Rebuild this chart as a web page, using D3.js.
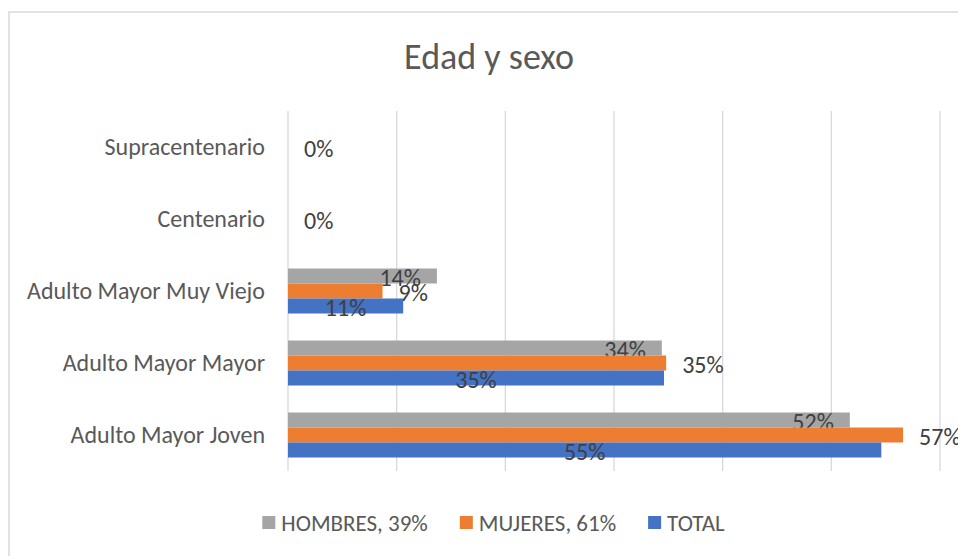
<!DOCTYPE html>
<html>
<head>
<meta charset="utf-8">
<script src="https://cdn.jsdelivr.net/npm/d3@7"></script>
<style>
  body { margin: 0; background: #fff; }
  text { font-family: Carlito, Lato, "Open Sans", sans-serif; }
</style>
</head>
<body>
<script>
// datos
var categorias = ["Supracentenario", "Centenario", "Adulto Mayor Muy Viejo", "Adulto Mayor Mayor", "Adulto Mayor Joven"];
var series = ["HOMBRES, 39%", "MUJERES, 61%", "TOTAL"];
var hombres = [0, 0, 0.137, 0.344, 0.517];
var mujeres = [0, 0, 0.087, 0.348, 0.566];
var total = [0, 0, 0.106, 0.346, 0.546];
var ticks = [0, 0.1, 0.2, 0.3, 0.4, 0.5, 0.6];
var colores = ["#A5A5A5", "#ED7D31", "#4472C4"];

var width = 958, height = 556;
var valores = [hombres, mujeres, total];

var svg = d3.select("body").append("svg")
  .attr("width", width)
  .attr("height", height);

// borde del area del grafico
svg.append("rect")
  .attr("x", 9).attr("y", 12)
  .attr("width", 1000).attr("height", 600)
  .attr("fill", "#fff")
  .attr("stroke", "#d9d9d9")
  .attr("stroke-width", 1.5);

svg.append("text")
  .attr("x", 489).attr("y", 57)
  .attr("text-anchor", "middle")
  .attr("dominant-baseline", "central")
  .attr("fill", "#595959")
  .style("font-size", "36px")
  .text("Edad y sexo");

var x = d3.scaleLinear().domain([0, 0.6]).range([288, 940]);
var y = d3.scaleBand().domain(categorias).range([111, 471]);
var grupo = 45;
var ySub = d3.scaleBand().domain(series)
  .range([(y.bandwidth() - grupo) / 2, (y.bandwidth() + grupo) / 2]);

// lineas de cuadricula
svg.append("g").selectAll("line")
  .data(ticks)
  .enter().append("line")
  .attr("x1", d => x(d)).attr("x2", d => x(d))
  .attr("y1", 111).attr("y2", 471)
  .attr("stroke", "#d9d9d9")
  .attr("stroke-width", 1.3);

// etiquetas de categorias
var yAxis = d3.axisLeft(y).tickSize(0).tickPadding(0);
var gy = svg.append("g")
  .attr("transform", "translate(265,0)")
  .call(yAxis);
gy.select(".domain").remove();
gy.selectAll("text")
  .attr("fill", "#595959")
  .style("font-size", "24px")
  .style("font-family", "Carlito, Lato, 'Open Sans', sans-serif");

// barras
series.forEach(function(s, i) {
  var filas = categorias.map((c, j) => ({cat: c, v: valores[i][j]}));
  var g = svg.append("g");
  g.selectAll("rect")
    .data(filas)
    .enter().append("rect")
    .attr("x", x(0))
    .attr("y", d => y(d.cat) + ySub(s))
    .attr("width", d => x(d.v) - x(0))
    .attr("height", ySub.bandwidth())
    .attr("fill", colores[i]);

  var conEtiqueta = filas.filter(d => i == 1 || d.v > 0);
  g.selectAll("text")
    .data(conEtiqueta)
    .enter().append("text")
    .attr("x", function(d) {
      if (i == 0) return x(d.v) - 16;
      if (i == 1) return x(d.v) + 16;
      return (x(0) + x(d.v)) / 2;
    })
    .attr("y", d => y(d.cat) + ySub(s) + ySub.bandwidth() / 2 + 1)
    .attr("text-anchor", i == 0 ? "end" : (i == 1 ? "start" : "middle"))
    .attr("dominant-baseline", "central")
    .attr("fill", "#404040")
    .style("font-size", "24px")
    .text(d => d3.format(".0%")(d.v));
});

// leyenda
var leyenda = svg.append("g");
var xpos = 0;
series.forEach(function(s, i) {
  var item = leyenda.append("g").attr("transform", "translate(" + xpos + ",0)");
  item.append("rect")
    .attr("x", 0).attr("y", 516)
    .attr("width", 13).attr("height", 13)
    .attr("fill", colores[i]);
  var t = item.append("text")
    .attr("x", 19).attr("y", 523)
    .attr("dominant-baseline", "central")
    .attr("fill", "#595959")
    .style("font-size", "23px")
    .text(s);
  xpos += 19 + t.node().getComputedTextLength() + 32;
});
var anchoLeyenda = xpos - 32;
leyenda.attr("transform", "translate(" + (493.5 - anchoLeyenda / 2) + ",0)");
</script>
</body>
</html>
